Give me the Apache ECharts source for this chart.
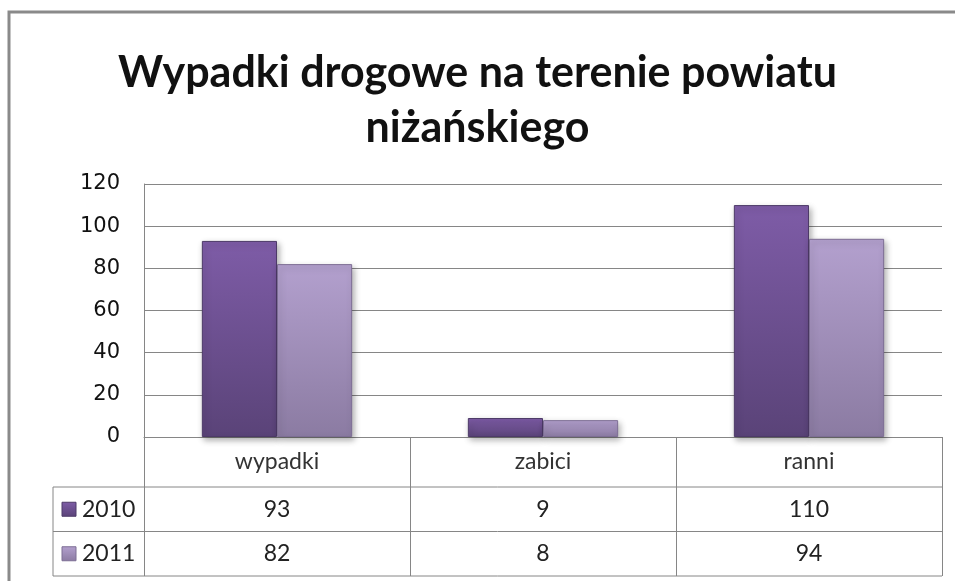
<!DOCTYPE html>
<html>
<head>
<meta charset="utf-8">
<script src="https://cdn.jsdelivr.net/npm/echarts@6/dist/echarts.min.js"></script>
<style>
html, body { margin: 0; padding: 0; background: #fff; }
#main { width: 955px; height: 581px; }
</style>
</head>
<body>
<div id="main"></div>
<script>
const categories = ['wypadki', 'zabici', 'ranni']
const years = ['2010', '2011']
const values2010 = [93, 9, 110]
const values2011 = [82, 8, 94]
const yTicks = [0, 20, 40, 60, 80, 100, 120]

const chartDom = document.getElementById('main')
const myChart = echarts.init(chartDom)

const lineColor = '#868686'
const textFont = 'Lato, "Open Sans", sans-serif'
const grid = { left: 144, right: 13, top: 184, bottom: 144 }
const plotBottom = 581 - grid.bottom
const rowH = 44.5
const headerH = 50
const tableLeft = 53
const tableRight = 955 - grid.right

const fills = [
  new echarts.graphic.LinearGradient(0, 0, 0, 1, [
    { offset: 0, color: '#7e5ca7' },
    { offset: 1, color: '#5a4378' }
  ]),
  new echarts.graphic.LinearGradient(0, 0, 0, 1, [
    { offset: 0, color: '#b3a0ce' },
    { offset: 1, color: '#8b7ba2' }
  ])
]
const borders = ['#4d3a68', '#7d6e94']
const seriesData = [values2010, values2011]

// table and frame built from the arrays
const graphics = [
  { type: 'polyline', shape: { points: [[9, 581], [9, 12], [955, 12]] }, style: { stroke: '#8a8a8a', lineWidth: 3, fill: null } },
  { type: 'line', shape: { x1: tableLeft, y1: plotBottom + headerH, x2: tableRight, y2: plotBottom + headerH }, style: { stroke: lineColor, lineWidth: 1 } },
  { type: 'line', shape: { x1: tableLeft, y1: plotBottom + headerH + rowH, x2: tableRight, y2: plotBottom + headerH + rowH }, style: { stroke: lineColor, lineWidth: 1 } },
  { type: 'line', shape: { x1: tableLeft, y1: plotBottom + headerH + 2 * rowH, x2: tableRight, y2: plotBottom + headerH + 2 * rowH }, style: { stroke: lineColor, lineWidth: 1 } },
  { type: 'line', shape: { x1: tableLeft, y1: plotBottom + headerH, x2: tableLeft, y2: plotBottom + headerH + 2 * rowH }, style: { stroke: lineColor, lineWidth: 1 } }
]
const colW = (tableRight - grid.left) / categories.length
years.forEach(function (year, r) {
  const cy = plotBottom + headerH + rowH * r + rowH / 2
  graphics.push({
    type: 'rect',
    shape: { x: 62, y: cy - 7, width: 14, height: 14 },
    style: { fill: fills[r], stroke: borders[r], lineWidth: 1 }
  })
  graphics.push({
    type: 'text',
    style: { x: 82, y: cy, text: year, fill: '#222', font: '23px ' + textFont, verticalAlign: 'middle' }
  })
  seriesData[r].forEach(function (v, c) {
    graphics.push({
      type: 'text',
      style: {
        x: grid.left + colW * c + colW / 2,
        y: cy,
        text: String(v),
        fill: '#222',
        font: '23px ' + textFont,
        align: 'center',
        verticalAlign: 'middle'
      }
    })
  })
})

const option = {
  animation: false,
  backgroundColor: '#fff',
  title: {
    text: 'Wypadki drogowe na terenie powiatu\nniżańskiego',
    left: 'center',
    top: 41,
    textStyle: {
      fontFamily: textFont,
      fontWeight: 'bold',
      fontSize: 43,
      lineHeight: 55,
      color: '#111'
    }
  },
  grid: grid,
  xAxis: {
    type: 'category',
    data: categories,
    axisLine: { show: true, lineStyle: { color: lineColor, width: 1 } },
    axisTick: { show: true, length: headerH + 2 * rowH, lineStyle: { color: lineColor, width: 1 } },
    axisLabel: {
      margin: headerH / 2,
      verticalAlign: 'middle',
      fontFamily: textFont,
      fontSize: 23,
      color: '#333'
    }
  },
  yAxis: {
    type: 'value',
    min: yTicks[0],
    max: yTicks[yTicks.length - 1],
    interval: 20,
    axisLine: { show: true, lineStyle: { color: lineColor, width: 1 } },
    axisTick: { show: false },
    axisLabel: {
      margin: 24,
      fontFamily: 'DejaVu Sans, sans-serif',
      fontSize: 21,
      color: '#111'
    },
    splitLine: { lineStyle: { color: lineColor, width: 1 } }
  },
  series: years.map(function (year, i) {
    return {
      name: year,
      type: 'bar',
      data: seriesData[i],
      barGap: 0,
      barCategoryGap: '43.5%',
      itemStyle: {
        color: fills[i],
        borderColor: borders[i],
        borderWidth: 1,
        shadowColor: 'rgba(0,0,0,0.3)',
        shadowBlur: 6,
        shadowOffsetX: 2,
        shadowOffsetY: 3
      }
    }
  }),
  graphic: graphics
}
myChart.setOption(option)
window.addEventListener('resize', () => {
  myChart.resize()
})
</script>
</body>
</html>
